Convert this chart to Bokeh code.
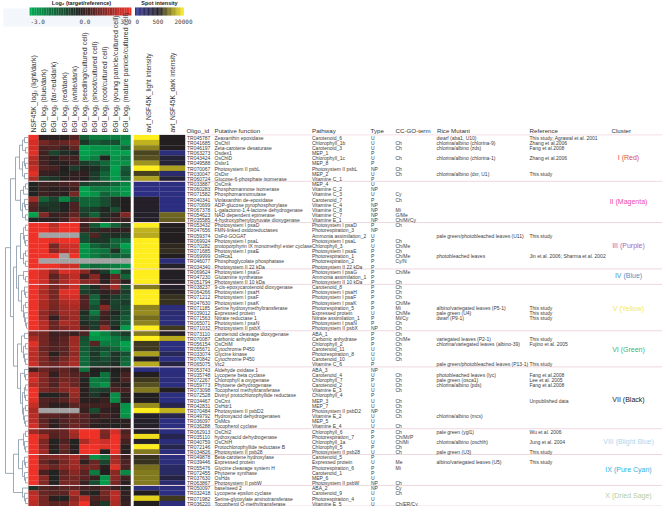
import numpy as np
from bokeh.plotting import figure
from bokeh.models import Range1d, ColumnDataSource
from bokeh.core.properties import value
from bokeh.embed import file_html
from bokeh.resources import INLINE

N = None
column_labels = ["NSF45K_log₂ (light/dark)", "BGI_log₂ (blue/dark)", "BGI_log₂ (far-red/dark)", "BGI_log₂ (red/dark)",
                 "BGI_log₂ (white/dark)", "BGI_log₂ (seedling/cultured cell)", "BGI_log₂ (shoot/cultured cell)",
                 "BGI_log₂ (root/cultured cell)", "BGI_log₂ (young panicle/cultured cell)", "BGI_log₂ (mature panicle/cultured cell)"]
spot_labels = ["avt_NSF45K_light intensity", "avt_NSF45K_dark intensity"]

log_ratio = [
 [3,.1,.1,.1,.7,-1.3,-2,-2,-2,-2.2],[2.6,1.2,.8,1,1.3,-.5,-1.3,-1,-1,-2.5],[2.6,.6,.7,.3,.9,-2.8,-2.5,-2.5,-2.5,-1.5],
 [2.8,.4,-.8,-.3,-.2,-2.8,-2.5,-2.3,-2.7,-2.8],[2.2,.4,.1,.5,.4,-2.5,-2,-.1,-2.5,-2],[2,.5,.1,.1,.4,-.6,-1,-1.6,-2.5,-2.5],
 [2.4,.7,.5,0,-.6,-.1,-.3,-1,-2.8,-1.3],[2.8,.3,.2,-.1,.2,.2,-.6,-1.5,-2.7,-1],[2,-.6,-.4,.1,.2,0,-.6,-1.5,-2.6,-1.5],
 [-.1,.4,.3,.5,.7,-.7,-1,-1,-1.5,-2.2],[-.1,.3,.1,.2,.4,-2.8,-2,-2,-2.3,-2.6],[-.1,.4,.2,.1,1.2,-2.8,-2.5,-1.5,-2,-2.6],
 [1.9,-1.5,-.8,-2.2,-1,-1.5,-1.5,-1,-.3,0],[.8,-.6,-.5,-.1,.6,-1.5,-1.5,-1,-.3,0],[.6,-.3,-.5,-.1,.6,-.8,-.6,-.2,-1,0],
 [-2.8,1.4,.3,.4,.9,-.6,-1.5,-.3,.2,1.4],[-.1,.1,.1,.5,1.5,.5,.8,.1,.4,.3],
 [3,3,2.2,3,3,.4,-1.2,-2.6,-1.5,-.5],[3,3,2.5,3,3,.5,-.4,.3,.2,.2],[3,N,N,N,N,-1,.7,-.4,-.3,-.5],
 [3,3,2.8,3,3,-1,-.5,-.5,-1.5,-1.5],[3,3,1.2,2.5,2.5,-2.5,-1.5,-1,-1.5,-2.8],[3,3,1.5,2.2,2.5,-2.5,-2,-1.8,-.4,-2.2],
 [3,3,3,N,3,-2.5,-2,-1.5,-1.5,-1.5],[3,N,N,N,N,N,N,N,N,N],[3,3,3,2.5,2.5,-2,-1.6,-1.8,-2,-2.5],
 [3,2.5,1.5,2.7,2.5,1.5,.3,-.6,-2.5,-.6],[3,2.5,.8,1.8,2.3,.4,1.5,.1,1,-1.5],[3,2.5,1.2,2,2.5,1.5,1.5,.1,1.2,.1],
 [3,2.2,1.2,1.8,2.5,-1,-.3,.8,2,-1],[3,2,1.2,2.8,2.8,-.7,-.5,.2,.5,-.6],[3,2.2,1.2,2.5,2.6,.6,-1.5,-.2,-.6,-1],
 [3,2,1.3,2,2.2,.7,-1.5,.2,-.8,-.6],[3,2,1.2,1.8,2,.6,-1,1.5,-.7,-1],[3,1.6,1,1.8,1.8,-.3,-2,.5,-.2,-1],
 [3,1.7,.2,1.5,1.8,-.5,-1,.3,-.5,-1.3],[3,2.2,1,2,1.8,-.3,-.6,.6,-.5,-1.5],[3,2.2,1,1.5,1.8,.4,-.6,1.6,-.2,-2.7],
 [1.5,1.2,.4,.5,.3,.6,-2.8,-2.2,-1.2,-.6],[2,1.2,.5,.8,1.8,-1,-2.5,-2.5,-2,-1.5],[2.8,1.2,.6,.9,1.8,-1.2,.8,-2,-2,-2.8],
 [2.4,1,.7,.8,1.8,-1.3,-.7,-1,-1.5,-2.5],[2.2,1.2,.1,.8,1.6,-1.5,-.5,-1.5,-.5,-1],[2.2,1.3,.6,1.2,1.8,-1.6,-.6,-1,-.5,-1.5],
 [2.5,1.3,1,1.5,2,-1.6,-.8,-.7,-.3,-1.7],
 [.5,1,.6,.9,.5,-1.8,0,-.2,0,.1],[2.2,1.4,.2,1,.7,.3,-.1,-1.8,-.1,.5],[2.6,1.4,.7,1.2,1,-.2,-2,-1.8,-.1,.6],
 [2.2,1.4,.6,1.5,1,.1,-2,-2.5,.3,.1],[3,1.3,1,1.5,1.8,.1,-.8,-.6,.6,.5],[3,-.1,-.1,.4,1.7,.1,-.5,0,-2.4,.1],
 [2.8,.7,.5,.8,1.4,.1,.1,.3,-2.3,.1],[2.4,.6,.1,.2,.8,.5,.4,.5,.3,-2.5],[2,N,N,N,N,.3,-1,.2,.1,-2.6],
 [2.2,.8,.8,.6,1,.8,.2,.5,.2,-2.5],[2.2,.8,.2,.7,.9,.7,.3,.1,.1,.1],[2.6,1,.1,.6,1.1,.7,.1,.1,-.1,.1],
 [1.8,1,.8,1,2,3,3,1.4,2.6,.6],[3,2,.7,1,1.8,3,3,1.2,3,.9],[3,1.3,-.1,.6,-.1,2,2.8,2.5,3,.5],
 [3,1.5,.1,1,.1,3,3,2.8,3,.1],[3,1.8,-.1,.8,.1,3,3,0,3,.1],
 [3,1.4,1.4,1.5,2,1,-2.5,-1.8,1.8,.4],[3,1,.5,1.2,1.8,.2,1,-.8,2,.6],[3,1.6,1,1.5,1.8,1.2,1.2,.1,2.8,.6],
 [3,.5,-.1,.9,1.5,.8,-2,0,1.5,-2.3],[3,1.5,-.1,1,1.2,.8,.3,-2.5,1.5,.4],[3,1.4,-.1,1.2,1.2,.3,-1,-2.7,1.3,.1],
 [-.4,.7,.5,.8,.9,.5,.4,.8,.4,-.1],[2.2,1,.8,.8,2,.3,-.1,1.2,2.2,.2],[2.4,1.2,.1,-.1,1.5,2.2,.6,1,2.2,.2],[2.2,1.2,.8,.9,1.8,3,.3,-.6,2,.3],
]
spot_light = [20000,7000,3000,1000,1200,4000,20000,900,5000,80,60,60,450,450,450,450,450,
              20000,7000,6000,20000,20000,20000,20000,20000,20000,20000,20000,20000,
              2500,20000,20000,20000,3000,3500,2000,3000,20000,2500,20000,800,800,5000,500,6000,
              80,500,800,1200,2500,500,500,3500,20000,450,450,450,450,15000,450,20000,2500,
              700,700,2000,2500,2500,2500,100,500,12000,500]
spot_dark = [500,500,500,100,400,400,5000,150,400,80,70,80,80,70,70,1800,1500,
             500,500,500,500,600,650,500,100,450,480,480,480,
             450,500,700,700,100,150,120,100,800,450,6000,80,80,250,70,350,
             80,100,100,80,500,80,80,300,7000,300,80,80,80,300,100,300,100,
             100,100,200,200,350,150,100,70,800,100]
oligo_ids = ["TR045787","TR041685","TR046197","TR063273","TR043424","TR049588","TR070067","TR030047","TR060724",
 "TR033887","TR060283","TR071582","TR040341","TR070699","TR067378","TR054623","TR035585",
 "TR053432","TR047656","TR059374","TR069924","TR070282","TR071685","TR069999","TR046077","TR034340",
 "TR069624","TR047230","TR051794",
 "TR038237","TR064266","TR071212","TR047630","TR071185","TR039012","TR071563","TR065071","TR071032",
 "TR073110","TR070087","TR056154","TR055671","TR033074","TR070842","TR065075",
 "TR053743","TR035748","TR072267","TR059773","TR073098","TR072528","TR034467","TR042831","TR070484","TR049792","TR036097","TR036288",
 "TR062913","TR035110","TR040759","TR072146","TR034826",
 "TR049878","TR039446","TR055476","TR072455","TR037630","TR063867",
 "TR050097","TR032418","TR071982","TR036220"]
functions = ["Zeaxanthin epoxidase","OsChlI","Zeta-carotene desaturase","Osdex1","OsChlD","Oslsr1","Photosystem II psbL","OsDxr","Glucose-6-phosphate isomerase",
 "OsCmk","Phosphomannose isomerase","Phosphomannomutase","Violaxanthin de-epoxidase","ADP-glucose pyrophosphorylase","L-galactono-1,4-lactone dehydrogenase","NAD dependent epimerase","4-hydroxyphenylpyruvate dioxygenase",
 "Photosystem I psaD","FMN-linked oxidoreductases","OsFd-GOGAT","Photosystem I psaL","protoporphyrin IX monomethyl ester cyclase","Photosystem I psaE","OsRca1","Phosphoglycolate phosphatase","Photosystem II 22 kDa",
 "Photosystem I psaG","Glutamine synthetase","Photosystem II 10 kDa",
 "9-cis-epoxycarotenoid dioxygenase","Photosystem I psaH","Photosystem I psaF","Photosystem I psaK","Serine hydroxymethyltransferase","Expressed protein","Nitrate reductase 1","Photosystem I psaN","Photosystem II psbX",
 "carotenoid cleavage dioxygenase","Carbonic anhydrase","OsChlM","Cytochrome P450","Glycine kinase","Cytochrome P450","Vtc2",
 "Aldehyde oxidase 1","Lycopene beta cyclase","Chlorophyll a oxygenase","Phytoene dehydrogenase","Tocopherol methyltransferase","Divinyl protochlorophyllide reductase","OsCmt","OsHdr1","Photosystem II psbD2","Hydroxyacid dehydrogenases","OsMcs","Tocopherol cyclase",
 "OsChl2","hydroxyacid dehydrogenase","OsChlH","Protochlorophyllide reductase B","Photosystem II psb28",
 "Beta-carotene hydroxylase","Expressed protein","Glycine cleavage system H","Phytoene synthase","OsHds","Photosystem II psbW",
 "baseIseed 2","Lycopene epsilon cyclase","Serine-glyoxylate aminotransferase","Tocopherol O-methyltransferase"]
pathways = ["Carotenoid_6","Chlorophyll_1b","Carotenoid_3","MEP_1","Chlorophyll_1c","MEP_8","Photosystem II psbL","MEP_2","Vitamine C_1",
 "MEP_4","Vitamine C_2","Vitamine C_3","Carotenoid_7","Vitamine C_4","Vitamine C_8","Vitamine C_7","Vitamine E_1",
 "Photosystem I psaD","Photorespiration_3","Ammonia assimilation_2","Photosystem I psaL","Chlorophyll_3","Photosystem I psaE","Photorespiration_1","Photorespiration_2","Photosystem II 22 kDa",
 "Photosystem I psaG","Ammonia assimilation_1","Photosystem II 10 kDa",
 "Carotenoid_8","Photosystem I psaH","Photosystem I psaF","Photosystem I psaK","Photorespiration_5","Expressed protein","Nitrate assimilation_1","Photosystem I psaN","Photosystem II psbX",
 "ABA_1","Carbonic anhydrase","Chlorophyll_2","Carotenoid_11","Photorespiration_8","Carotenoid_10","Vitamine C_6",
 "ABA_3","Carotenoid_4","Chlorophyll_7","Carotenoid_2","Vitamine E_3","Chlorophyll_4","MEP_3","MEP_7","Photosystem II psbD2","Vitamine E_2","MEP_5","Vitamine E_4",
 "Chlorophyll_6","Photorespiration_7","Chlorophyll_1a","Chlorophyll_5","Photosystem II psb28",
 "Carotenoid_5","Expressed protein","Photorespiration_6","Carotenoid_1","MEP_6","Photosystem II psbW",
 "ABA_2","Carotenoid_9","Photorespiration_4","Vitamine E_5"]
types = ["U","U","U","P","U","P","NP","U","P","U","NP","U","P","NP","NP","NP","NP",
 "P","NP","U","P","U","P","P","P","P","P","P","P",
 "P","P","P","P","P","U","P","P","NP","P","P","P","U","U","U","P",
 "NP","U","P","U","U","P","U","U","NP","U","U","U",
 "P","P","U","P","U","P","U","P","P","U","NP","NP","U","U","U"]
cc_go = {1:"Ch",2:"Ch",4:"Ch",6:"Ch",7:"Ch",11:"Cy",12:"Ch",14:"Mi",15:"G/Me",16:"Ch/Mi/Cy",17:"Ch",20:"Ch",21:"Ch/Me",22:"Ch",23:"Ch/Me",24:"Cy/N",
 26:"Ch/Me",28:"Ch",29:"Ch",30:"Ch",31:"Ch",32:"Ch/Me",33:"Mi",34:"Ch/Me",35:"Mi/Cy",36:"Ch",37:"Ch",38:"Ch",39:"Ch/Me",40:"Ch",41:"Ch",42:"Ch",43:"Ch",
 46:"Ch",47:"Ch",48:"Ch",49:"Ch",51:"Ch",52:"Ch",53:"Ch",54:"Ch",56:"Ch",57:"Ch",58:"Ch/Mi/P",59:"Ch/Mi",60:"Ch",61:"Ch",63:"Me",64:"Mi",67:"Ch",68:"Cy",69:"Ch",71:"Ch/ER/Cy"}
mutants = {0:("dwarf (aba1, U10)","This study; Agrawal et al. 2001"),1:("chlorina/albino (chlorina-9)","Zhang et al.2006"),2:("chlorina/albino (zds)","Fang et al.2008"),
 4:("chlorina/albino (chlorina-1)","Zhang et al.2006"),7:("chlorina/albino (dxr, U1)","This study"),19:("pale green/photobleached leaves (U11)","This study"),
 23:("photobleached leaves","Jin et al. 2006; Sharma et al. 2002"),33:("albino/variegated leaves (P5-1)","This study"),34:("pale green (U4)","This study"),35:("dwarf (P9-1)","This study"),
 39:("variegated leaves (P2-1)","This study"),40:("chlorina/variegated leaves (albino-39)","Fujino et al. 2005"),44:("pale green/photobleached leaves (P13-1)","This study"),
 46:("photobleached leaves (lyc)","Fang et al.2008"),47:("pale green (osca1)","Lee et al. 2005"),48:("chlorina/albino (pds)","Fang et al.2008"),51:("","Unpublished data"),
 54:("chlorina/albino (mcs)",""),57:("pale green (ygl1)","Wu et al. 2006"),59:("chlorina/albino (oschlh)","Jung et al. 2004"),61:("pale green (U3)","This study"),63:("albino/variegated leaves (U5)","This study")}
cluster_names = ["I (Red)","II (Magenta)","III (Purple)","IV (Blue)","V (Yellow)","VI (Green)","VII (Black)","VIII (Blight Blue)","IX (Pure Cyan)","X (Dried Sage)"]
cluster_sizes = [9,8,9,3,9,7,12,5,6,4]
cluster_colors = ["#d8504c","#e848a8","#a868b8","#4a94c4","#f2e860","#3fb278","#222222","#a8d8f0","#2fb0e0","#b4cca4"]
cluster_label_y = [157,201,245,275,308,349,399,441,469,495]

# dendrogram: (merge x, left, right), leaves are row numbers
tree = (5,
  (10,
    (15,
      (19,(22,(24,0,1),(25,2,3)),(22,(24,4,(25,5,6)),(24,7,8))),
      (20,(23,(25,9,10),11),(22,(24,12,(25,13,14)),(25,15,16)))),
    (13,
      (16,
        (20,(23,(25,17,18),(24,19,(25,20,21))),(23,(25,22,23),(25,24,25))),
        (18,(23,26,(25,27,28)),(21,(24,29,(25,30,31)),(23,(25,32,33),(24,34,(25,35,(26,36,37))))))),
      (17,
        (21,(24,38,39),(23,(25,40,41),(24,42,(25,43,44)))),
        (20,(24,45,(25,46,47)),(22,(24,(25,48,49),(25,50,51)),(23,(25,52,53),(24,54,(25,55,56)))))))),
  (13,
    (18,
      (23,(25,57,58),(24,59,(25,60,61))),
      (22,(24,62,(25,63,64)),(24,65,(25,66,67)))),
    (22,68,(24,69,(25,70,71)))))

# ---------------------------------------------------------------- layout
ROW0, ROWH = 134.4, 5.155
HX0, HW = 28.0, 10.22
SX = [133.3, 159.0, 184.6]
TXT = "#3c3c3c"
FONT = value("Liberation Sans")

def mix(a, b, t):
    a, b = np.array(a, float), np.array(b, float)
    c = a + (b - a) * t
    return "#%02x%02x%02x" % tuple(int(round(x)) for x in c)
GREEN, DARK, RED = (0, 170, 80), (35, 31, 32), (238, 50, 40)
BLUE, YELLOW = (46, 49, 146), (255, 238, 30)
def heat(v):
    if v is None:
        return "#a3a3a3"
    t = max(-1, min(1, v / 3))
    return mix(DARK, RED, t) if t >= 0 else mix(DARK, GREEN, -t)
def spot_t(v):
    if v <= 500:
        return v / 500 - 1
    return min(1, np.log10(v / 500) / np.log10(40))
def spot(v):
    t = spot_t(v)
    return mix(DARK, YELLOW, t) if t >= 0 else mix(DARK, BLUE, -t)

p = figure(width=662, height=506, x_range=Range1d(0, 662), y_range=Range1d(506, 0),
           output_backend="svg", toolbar_location=None, min_border=0,
           outline_line_color=None, background_fill_color="white")
p.axis.visible = False
p.grid.visible = False
p.styles = {"position": "absolute", "left": "0px", "top": "0px"}

# legend background and colour bars
p.quad(left=[3], right=[131], top=[8], bottom=[26], fill_color="#f3f6fb", line_color=None)
bar_t = np.linspace(-1, 1, 60)
p.quad(left=30 + 50 * (bar_t + 1) - 0.9, right=30 + 50 * (bar_t + 1) + 0.9, top=7, bottom=15,
       fill_color=[heat(3 * t) for t in bar_t], line_color=None)
p.quad(left=135 + 24 * (bar_t + 1) - 0.5, right=135 + 24 * (bar_t + 1) + 0.5, top=7, bottom=15,
       fill_color=[mix(DARK, YELLOW, t) if t >= 0 else mix(DARK, BLUE, -t) for t in bar_t], line_color=None)

def put(x, y, s, size=5.0, color=TXT, align="left", angle=0, style="normal", font=FONT):
    p.text(x=x, y=y, text=s, text_font=font, text_font_size=f"{size}px", text_color=color,
           text_align=align, text_baseline="middle", angle=angle, text_font_style=style)

put([81], [2.8], ["Log₂ (target/reference)"], 5.5, "#222222", "center", style="bold")
put([159], [2.8], ["Spot intensity"], 5.5, "#222222", "center", style="bold")
mono = value("DejaVu Sans Mono")
put([30, 79, 120], [21, 21, 21], ["-3.0", "0.0", "3.0"], 6, "#444444", font=mono)
put([135, 152, 174], [21, 21, 21], ["0", "500", "20000"], 6, "#444444", font=mono)

# rotated headers
head_x = [HX0 + HW * (i + .5) - .2 for i in range(10)]
put(head_x, [132] * 10, column_labels, 7, "#333333", angle=np.pi / 2)
put([148, 172], [132, 132], spot_labels, 6.6, "#333333", angle=np.pi / 2)

# heat map cells
L, R, T, B, C = [], [], [], [], []
for r, row in enumerate(log_ratio):
    for c, v in enumerate(row):
        L.append(HX0 + c * HW); R.append(HX0 + (c + 1) * HW)
        T.append(ROW0 + r * ROWH); B.append(ROW0 + (r + 1) * ROWH); C.append(heat(v))
    for c, v in enumerate((spot_light[r], spot_dark[r])):
        L.append(SX[c]); R.append(SX[c + 1])
        T.append(ROW0 + r * ROWH); B.append(ROW0 + (r + 1) * ROWH); C.append(spot(v))
p.quad(left="l", right="r", top="t", bottom="b", fill_color="c", line_color="c", line_width=.2,
       source=ColumnDataSource(dict(l=L, r=R, t=T, b=B, c=C)))

# separators
edges = [0] + list(np.cumsum(cluster_sizes))
ys = [ROW0 + e * ROWH for e in edges]
p.segment(x0=[186] * 2, x1=[662] * 2, y0=[ys[0], ys[-1] - 0.2], y1=[ys[0], ys[-1] - 0.2], line_color="#f6dfe6", line_width=1)
p.segment(x0=[28] * 9, x1=[662] * 9, y0=ys[1:-1], y1=ys[1:-1], line_color="#eed8e0", line_width=1)

# dendrogram
seg_x0, seg_x1, seg_y0, seg_y1 = [], [], [], []
def walk(node):
    if isinstance(node, int):
        return 27.5, ROW0 + (node + .5) * ROWH
    x, a, b = node
    xa, ya = walk(a)
    xb, yb = walk(b)
    seg_x0.extend([x, x, x]); seg_x1.extend([x, xa, xb])
    seg_y0.extend([ya, ya, yb]); seg_y1.extend([yb, ya, yb])
    return x, (ya + yb) / 2
walk(tree)
p.segment(x0=seg_x0, x1=seg_x1, y0=seg_y0, y1=seg_y1, line_color="#8494a6", line_width=.8)

# tables
ry = [ROW0 + (i + .5) * ROWH + .2 for i in range(72)]
put([186.5] * 72, ry, oligo_ids)
put([214] * 72, ry, functions)
put([311.5] * 72, ry, pathways)
put([370.5] * 72, ry, types)
k = list(cc_go)
put([395] * len(k), [ry[i] for i in k], [cc_go[i] for i in k])
k = list(mutants)
put([436] * len(k), [ry[i] for i in k], [mutants[i][0] for i in k])
put([529] * len(k), [ry[i] for i in k], [mutants[i][1] for i in k])

heads = ["Oligo_id", "Putative function", "Pathway", "Type", "CC-GO-term", "Rice Mutant", "Reference", "Cluster"]
put([186, 214, 311.5, 370, 395, 436.5, 529, 611], [129.5] * 8, heads, 6.2, "#333333")
for name, col, y in zip(cluster_names, cluster_colors, cluster_label_y):
    put([628], [y], [name], 7, col, "center")

open("out.html", "w").write(file_html(p, INLINE))
